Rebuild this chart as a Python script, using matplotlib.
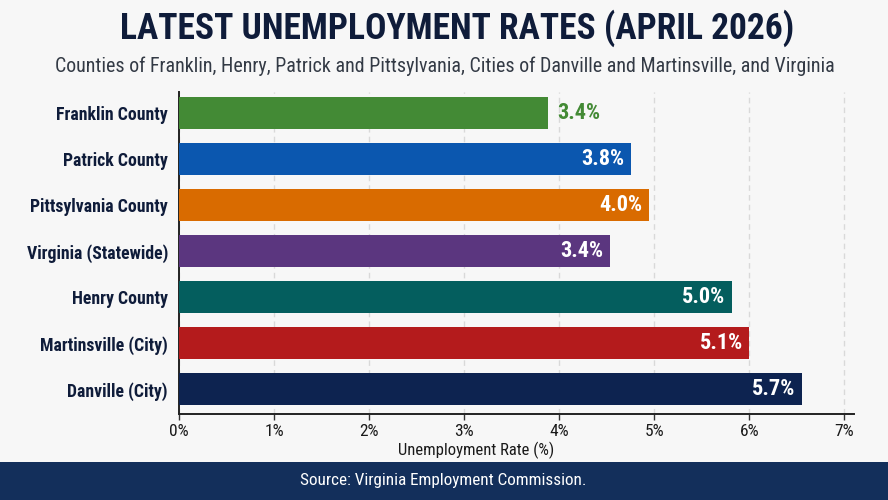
import matplotlib
matplotlib.use("Agg")
import matplotlib.pyplot as plt
from matplotlib import font_manager as fm
from matplotlib.patches import Rectangle

# ---- data ----
categories = ["Franklin County", "Patrick County", "Pittsylvania County",
              "Virginia (Statewide)", "Henry County", "Martinsville (City)",
              "Danville (City)"]
bar_lengths = [3.88, 4.75, 4.94, 4.53, 5.82, 6.00, 6.55]   # as drawn
value_labels = ["3.4%", "3.8%", "4.0%", "3.4%", "5.0%", "5.1%", "5.7%"]
bar_colors = ["#438a35", "#0b57af", "#d96b00", "#5b367f", "#045e5e",
              "#b41b1c", "#0d2350"]
x_ticks = [0, 1, 2, 3, 4, 5, 6, 7]
x_tick_labels = ["0%", "1%", "2%", "3%", "4%", "5%", "6%", "7%"]

title = "LATEST UNEMPLOYMENT RATES (APRIL 2026)"
subtitle = ("Counties of Franklin, Henry, Patrick and Pittsylvania, "
            "Cities of Danville and Martinsville, and Virginia")
xlabel = "Unemployment Rate (%)"
source = "Source: Virginia Employment Commission."

# ---- fonts ----
avail = {f.name for f in fm.fontManager.ttflist}
cond = None
for name in ["Roboto Condensed", "Liberation Sans Narrow", "Open Sans Condensed",
             "DejaVu Sans Condensed", "Roboto", "Liberation Sans"]:
    if name in avail:
        cond = name
        break
plt.rcParams['font.family'] = [cond, 'DejaVu Sans']

navy = "#0f1c3a"
bg = "#f7f7f7"

fig = plt.figure(figsize=(8.88, 5.0), dpi=100, facecolor=bg)
ax = fig.add_axes([179/888, 1-414/500, 675/888, (414-92)/500])
ax.set_facecolor(bg)

y = list(range(len(categories)))
ax.barh(y, bar_lengths, height=0.69, color=bar_colors, zorder=3)

for i, (v, lab, c) in enumerate(zip(bar_lengths, value_labels, bar_colors)):
    if i == 0:
        ax.text(v + 0.1, i, lab, ha='left', va='center', color=c,
                fontsize=16, fontweight='bold', zorder=4)
    else:
        ax.text(v - 0.07, i, lab, ha='right', va='center', color='white',
                fontsize=16, fontweight='bold', zorder=4)

ax.set_xlim(0, 7.1)
ax.set_ylim(6.54, -0.46)
ax.set_yticks(y)
ax.set_yticklabels(categories, fontsize=12.8, fontweight='bold', color=navy)
ax.tick_params(axis='y', length=0, pad=8)
ax.set_xticks(x_ticks)
ax.set_xticklabels(x_tick_labels, fontsize=12.5, color="#1a1a1a")
ax.tick_params(axis='x', length=4, width=1, color="#333333", pad=3)

ax.grid(axis='x', linestyle=(0, (4, 3)), color="#d9d9d9", linewidth=1, zorder=0)
for s in ["top", "right"]:
    ax.spines[s].set_visible(False)
for s in ["left", "bottom"]:
    ax.spines[s].set_color("#222222")
    ax.spines[s].set_linewidth(1.4)

fig.text(476/888, 1-450/500, xlabel, ha='center', va='center', fontsize=12,
         color="#1a1a1a")

fig.text(457/888, 1-28/500, title, ha='center', va='center', fontsize=25.6,
         fontweight='bold', color=navy)
fig.text(445/888, 1-66/500, subtitle, ha='center', va='center', fontsize=14.4,
         color="#333a45")

fig.patches.append(Rectangle((0, 0), 1, 38/500, transform=fig.transFigure,
                             facecolor="#132f5b", edgecolor='none', zorder=0))
fig.text(443/888, 1-481/500, source, ha='center', va='center', fontsize=12.3,
         color="white")

fig.savefig("out.png", dpi=100, facecolor=bg)
